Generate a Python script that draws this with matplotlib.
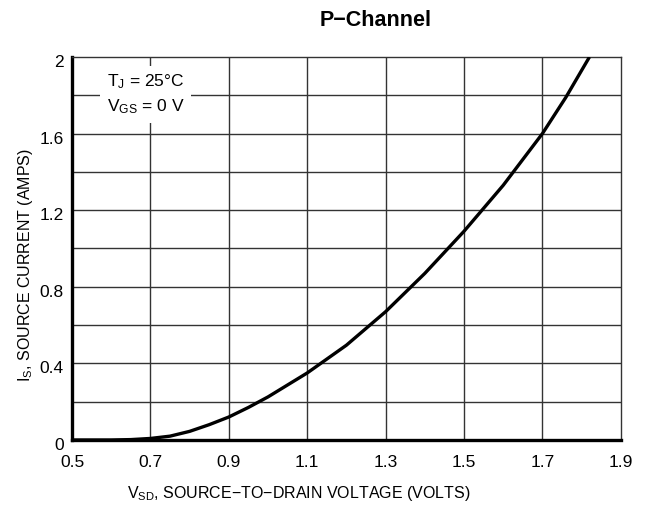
import matplotlib
matplotlib.use('Agg')
import matplotlib.pyplot as plt
import matplotlib.transforms as mtransforms

# 曲线数据
v_sd = [0.50, 0.60, 0.65, 0.70, 0.75, 0.80, 0.85, 0.90, 0.95, 1.00,
        1.10, 1.20, 1.30, 1.40, 1.50, 1.60, 1.70, 1.76, 1.82]
i_s = [0.0, 0.0, 0.002, 0.008, 0.02, 0.045, 0.08, 0.12, 0.17, 0.225,
       0.35, 0.495, 0.67, 0.87, 1.09, 1.33, 1.60, 1.79, 2.0]

x_ticks = [0.5, 0.7, 0.9, 1.1, 1.3, 1.5, 1.7, 1.9]
x_labels = ['0.5', '0.7', '0.9', '1.1', '1.3', '1.5', '1.7', '1.9']
y_ticks = [0, 0.4, 0.8, 1.2, 1.6, 2.0]
y_labels = ['0', '0.4', '0.8', '1.2', '1.6', '2']
y_grid = [0.2, 0.4, 0.6, 0.8, 1.0, 1.2, 1.4, 1.6, 1.8]

plt.rcParams['font.family'] = ['Liberation Sans Narrow', 'Liberation Sans', 'DejaVu Sans']
plt.rcParams['mathtext.fontset'] = 'custom'
plt.rcParams['mathtext.rm'] = 'Liberation Sans'

fig = plt.figure(figsize=(6.46, 5.09), dpi=100, facecolor='white')
ax = fig.add_axes([0.1115, 0.1356, 0.8495, 0.7524])

# 网格线：竖线只在标注刻度处，横线每 0.2
for xv in x_ticks[1:-1]:
    ax.axvline(xv, color='#333333', linewidth=1.0, zorder=1)
for yv in y_grid:
    ax.axhline(yv, color='#333333', linewidth=1.0, zorder=1)

ax.plot(v_sd, i_s, color='black', linewidth=2.4, solid_capstyle='butt', zorder=3)

ax.set_xlim(0.5, 1.9)
ax.set_ylim(0, 2.0)
ax.set_xticks(x_ticks)
ax.set_xticklabels(x_labels)
ax.set_yticks(y_ticks)
ax.set_yticklabels(y_labels)
ax.tick_params(axis='x', length=0, labelsize=12.5, pad=11)
ax.tick_params(axis='y', length=0, labelsize=12.5, pad=6)

# y 刻度标签略微下移
shift = mtransforms.ScaledTranslation(0, -4 / 100, fig.dpi_scale_trans)
for lbl in ax.get_yticklabels():
    lbl.set_transform(lbl.get_transform() + shift)

for side in ['left', 'bottom']:
    ax.spines[side].set_linewidth(2.4)
for side in ['top', 'right']:
    ax.spines[side].set_linewidth(1.0)
    ax.spines[side].set_color('#333333')

ax.set_xlabel('$\\mathregular{V_{SD}}$, SOURCE\u2212TO\u2212DRAIN VOLTAGE (VOLTS)',
              fontsize=11.5, va='center')
ax.xaxis.set_label_coords(0.413, -0.141)
ax.set_ylabel('$\\mathregular{I_S}$, SOURCE CURRENT (AMPS)', fontsize=11.5, va='center')
ax.yaxis.set_label_coords(-0.084, 0.456)

# 条件说明框
ax.text(0.588, 1.805, '$\\mathregular{T_J}$ = 25\u00b0C\n$\\mathregular{V_{GS}}$ = 0 V',
        fontsize=12.5, ha='left', va='center', linespacing=1.45, zorder=4,
        bbox=dict(facecolor='white', edgecolor='none', pad=5))

fig.text(0.582, 0.96, 'P\u2212Channel', fontsize=15.5, fontweight='bold',
         ha='center', va='center')

fig.savefig('out.png', dpi=100, facecolor='white')
plt.close(fig)
